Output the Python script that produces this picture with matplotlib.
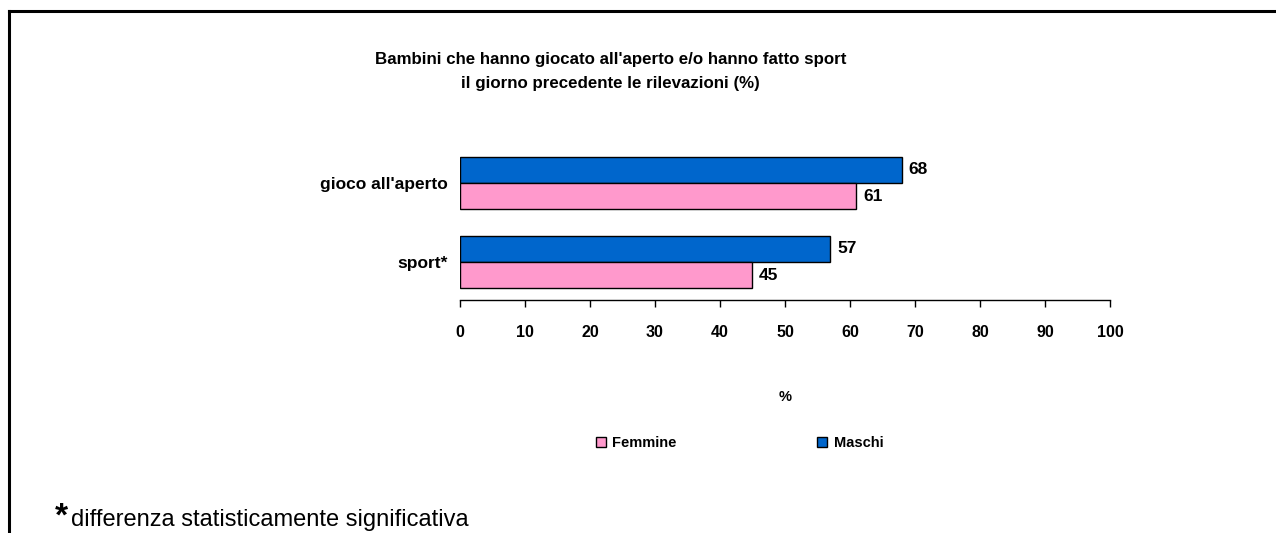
import numpy as np
import matplotlib
matplotlib.use("Agg")
import matplotlib.pyplot as plt
from matplotlib.lines import Line2D
from matplotlib.patches import Patch

plt.rcParams['font.family'] = ['Liberation Sans', 'DejaVu Sans']

# Dati
categorie = ["sport*", "gioco all'aperto"]
maschi = [57, 68]
femmine = [45, 61]
tick_x = [0, 10, 20, 30, 40, 50, 60, 70, 80, 90, 100]

col_m = '#0066CC'
col_f = '#FF99CC'

fig = plt.figure(figsize=(12.76, 5.33), dpi=100)
ax = fig.add_axes([0.3605, 0.4371, 0.5094, 0.2908])

y = np.arange(len(categorie))
h = 0.33
ax.barh(y + h / 2, maschi, height=h, color=col_m, edgecolor='black', linewidth=1, label='Maschi')
ax.barh(y - h / 2, femmine, height=h, color=col_f, edgecolor='black', linewidth=1, label='Femmine')

for i in range(len(categorie)):
    ax.text(maschi[i] + 1, y[i] + h / 2, str(maschi[i]), va='center', ha='left',
            fontsize=12.5, fontweight='bold')
    ax.text(femmine[i] + 1, y[i] - h / 2, str(femmine[i]), va='center', ha='left',
            fontsize=12.5, fontweight='bold')

ax.set_xlim(0, 100)
ax.set_ylim(-0.481, 1.481)
ax.set_xticks(tick_x)
ax.set_xticklabels([str(t) for t in tick_x], fontsize=11.5, fontweight='bold')
ax.set_yticks(y)
ax.set_yticklabels(categorie, fontsize=12.5, fontweight='bold')
ax.tick_params(axis='y', length=0, pad=9)
ax.tick_params(axis='x', length=5, width=1, direction='out', pad=13)
for s in ['top', 'right', 'left']:
    ax.spines[s].set_visible(False)
ax.spines['bottom'].set_linewidth(1)

ax.set_xlabel('%', fontsize=10.5, fontweight='bold', labelpad=36)

fig.text(0.4785, 0.888, "Bambini che hanno giocato all'aperto e/o hanno fatto sport",
         ha='center', va='center', fontsize=12.2, fontweight='bold')
fig.text(0.4785, 0.843, "il giorno precedente le rilevazioni (%)",
         ha='center', va='center', fontsize=12.2, fontweight='bold')

handles = [Patch(facecolor=col_f, edgecolor='black', linewidth=1),
           Patch(facecolor=col_m, edgecolor='black', linewidth=1)]
fig.legend(handles, ['Femmine', 'Maschi'], loc='center', bbox_to_anchor=(0.5795, 0.169),
           ncol=2, frameon=False, prop={'size': 10.5, 'weight': 'bold'},
           handlelength=0.7, handleheight=0.7, handletextpad=0.45, columnspacing=9.6)

# nota
fig.text(0.043, 7 / 533, "*", fontsize=24, fontweight='bold', ha='left', va='baseline')
fig.text(0.056, 7 / 533, "differenza statisticamente significativa", fontsize=17,
         ha='left', va='baseline')

# cornice
fig.add_artist(Line2D([0.007, 1.0], [0.979, 0.979], color='black', linewidth=2.2,
                      transform=fig.transFigure))
fig.add_artist(Line2D([0.007, 0.007], [0.0, 0.979], color='black', linewidth=2.2,
                      transform=fig.transFigure))

fig.savefig('out.png', dpi=100)
